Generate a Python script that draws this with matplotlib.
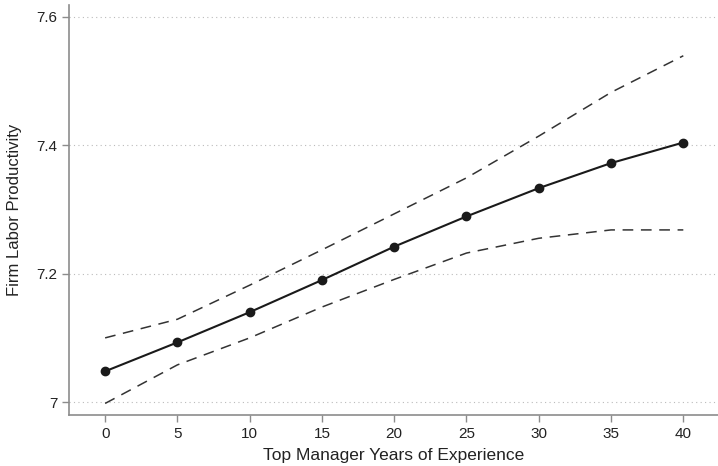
import numpy as np
import matplotlib.pyplot as plt

plt.rcParams['font.family'] = ['Liberation Sans', 'DejaVu Sans']

experience = [0, 5, 10, 15, 20, 25, 30, 35, 40]
productivity = [7.048, 7.093, 7.140, 7.190, 7.242, 7.289, 7.333, 7.372, 7.404]
upper_ci = [7.100, 7.129, 7.182, 7.237, 7.293, 7.349, 7.414, 7.482, 7.539]
lower_ci = [6.998, 7.058, 7.100, 7.148, 7.191, 7.232, 7.255, 7.268, 7.268]

y_ticks = [7.0, 7.2, 7.4, 7.6]
y_labels = ['7', '7.2', '7.4', '7.6']

fig = plt.figure(figsize=(7.18, 4.66), dpi=100)
ax = fig.add_axes([69 / 718, 51 / 466, 649 / 718, 410 / 466])

ax.plot(experience, upper_ci, color='#333333', lw=1.1, ls=(0, (7, 5)))
ax.plot(experience, lower_ci, color='#333333', lw=1.1, ls=(0, (7, 5)))
ax.plot(experience, productivity, color='#1a1a1a', lw=1.5, marker='o', ms=6)

ax.set_xlim(-2.5, 42.4)
ax.set_ylim(6.98, 7.618)
ax.set_xticks(experience)
ax.set_yticks(y_ticks)
ax.set_yticklabels(y_labels)

ax.grid(axis='y', color='#bbbbbb', ls=(0, (1, 3)), lw=0.8)
ax.set_axisbelow(True)
for s in ['top', 'right']:
    ax.spines[s].set_visible(False)
for s in ['left', 'bottom']:
    ax.spines[s].set_color('#8c8c8c')
    ax.spines[s].set_linewidth(1.2)
ax.tick_params(colors='#8c8c8c', labelcolor='#222222', labelsize=11, length=5, width=1)

ax.set_xlabel('Top Manager Years of Experience', fontsize=12.5, color='#222222', labelpad=5)
ax.set_ylabel('Firm Labor Productivity', fontsize=12, color='#222222', labelpad=10)

fig.savefig('out.png', dpi=100)
